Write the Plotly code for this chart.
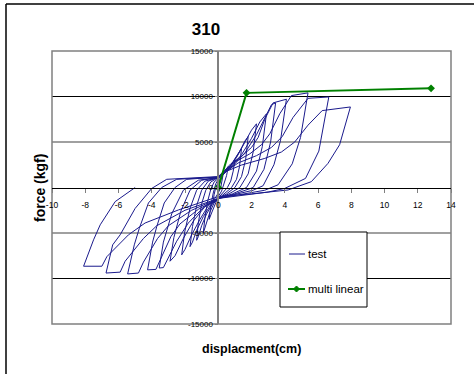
import plotly.graph_objects as go

# ---------------- data ----------------
# Cyclic test: each cycle = positive half then negative half (disp cm, force kgf)
cycle_01_disp = [0, 0.1, 0.2, 0.3, 0.25, 0.15, 0, -0.15, -0.3, -0.25, -0.15, 0]
cycle_01_force = [0, 600, 1100, 1500, 800, 0, -600, -1100, -1500, -800, 0, 600]

cycle_02_disp = [0.2, 0.4, 0.6, 0.5, 0.35, 0.2, 0, -0.2, -0.4, -0.55, -0.45, -0.3, -0.15, 0]
cycle_02_force = [1200, 1800, 2300, 1300, 300, -400, -1000, -1800, -2800, -3500, -2000, -600, 400, 900]

cycle_03_disp = [0.25, 0.5, 0.75, 1.0, 0.9, 0.75, 0.55, 0.3, 0, -0.25, -0.5, -0.7, -0.9, -0.8, -0.65, -0.45, -0.25, 0]
cycle_03_force = [1300, 1800, 2400, 3000, 1800, 700, 0, -500, -1100, -1700, -2700, -3900, -5000, -3300, -1600, -200, 600, 1000]

cycle_04_disp = [0.35, 0.7, 1.0, 1.25, 1.4, 1.28, 1.1, 0.8, 0.4, 0, -0.35, -0.7, -1.0, -1.2, -1.3, -1.2, -1.0, -0.75, -0.45, 0]
cycle_04_force = [1500, 2300, 3200, 4000, 4300, 2300, 900, 0, -600, -1200, -1800, -2900, -4200, -5400, -5800, -3900, -1800, -300, 600, 1100]

cycle_05_disp = [0.45, 0.9, 1.3, 1.6, 1.8, 1.65, 1.4, 1.0, 0.5, 0, -0.45, -0.9, -1.3, -1.55, -1.7, -1.55, -1.3, -1.0, -0.6, 0]
cycle_05_force = [1700, 2800, 4000, 5100, 5600, 3100, 1200, 0, -700, -1200, -1900, -3200, -4700, -6000, -6500, -4300, -2000, -300, 700, 1100]

cycle_06_disp = [0.55, 1.1, 1.6, 2.0, 2.3, 2.1, 1.8, 1.3, 0.65, 0, -0.6, -1.1, -1.6, -2.0, -2.2, -2.02, -1.7, -1.3, -0.8, 0]
cycle_06_force = [1900, 3300, 4900, 6300, 7000, 3900, 1500, 0, -700, -1200, -2000, -3500, -5200, -6800, -7400, -4900, -2300, -300, 700, 1100]

cycle_07_disp = [0.7, 1.4, 2.0, 2.5, 2.9, 2.65, 2.3, 1.7, 0.85, 0, -0.8, -1.5, -2.1, -2.6, -2.9, -2.67, -2.25, -1.7, -1.0, 0]
cycle_07_force = [2100, 3600, 5400, 7200, 8100, 4500, 1800, 0, -700, -1200, -2100, -3700, -5600, -7500, -8100, -5500, -2600, -300, 800, 1100]

cycle_08_disp = [0.8, 1.6, 2.3, 2.9, 3.2, 3.45, 3.15, 2.75, 2.1, 1.0, 0, -0.9, -1.8, -2.5, -3.1, -3.3, -3.55, -3.3, -2.8, -2.1, -1.2, 0]
cycle_08_force = [2200, 3800, 5800, 8000, 9100, 9300, 5000, 2000, 0, -700, -1200, -2200, -3900, -5900, -8100, -8800, -8850, -6000, -2900, -300, 800, 1100]

cycle_09_disp = [0.75, 1.45, 2.0, 2.4, 2.8, 3.3, 4.1, 3.75, 3.35, 2.7, 2.1, 0, -1.2, -2.3, -2.85, -3.5, -3.75, -4.25, -3.95, -3.7, -3.25, -2.6, -1.9, 0]
cycle_09_force = [2600, 3500, 4400, 5500, 7500, 9300, 9700, 5200, 2500, 200, -300, -1200, -2400, -4000, -5400, -7900, -9000, -9050, -6000, -4300, -1700, 0, 900, 1150]

cycle_10_disp = [1.0, 1.9, 2.6, 3.1, 3.7, 4.4, 5.4, 4.95, 4.45, 3.6, 2.8, 0, -1.6, -3.0, -3.65, -4.5, -4.8, -5.45, -5.05, -4.75, -4.2, -3.4, -2.5, 0]
cycle_10_force = [2800, 3700, 4700, 5900, 8100, 10100, 10400, 5500, 2600, 300, -300, -1200, -2500, -4200, -5600, -8200, -9400, -9500, -6300, -4500, -1700, 0, 900, 1150]

cycle_11_disp = [1.2, 2.3, 3.2, 3.85, 4.5, 5.4, 6.65, 6.05, 5.25, 4.0, 3.0, 0, -2.0, -3.7, -4.5, -5.6, -5.9, -6.75, -6.35, -5.9, -5.0, -4.0, -3.1, 0]
cycle_11_force = [2700, 3500, 4400, 5600, 7700, 9800, 9950, 4000, 1000, -100, -500, -1200, -2500, -4200, -5600, -8100, -9300, -9400, -6300, -5200, -2300, -100, 900, 1200]

cycle_12_disp = [0.2, 1.4, 2.8, 3.8, 4.6, 5.4, 6.25, 7.95, 7.3, 6.6, 5.6, 4.2, 2.0, 0, -2.4, -4.4, -5.4, -6.7, -7.0, -8.1, -7.5, -7.1, -6.2, -5.0]
cycle_12_force = [1560, 2470, 3200, 3900, 5000, 6850, 8450, 8850, 4700, 2650, 640, -270, -700, -1000, -2470, -3900, -5200, -7600, -8650, -8650, -5750, -4100, -1550, 0]

# Multi-linear idealisation
multi_disp = [0, 1.7, 12.8]
multi_force = [0, 10400, 10900]

x_ticks = [-10, -8, -6, -4, -2, 0, 2, 4, 6, 8, 10, 12, 14]
x_tick_text = ["-10", "-8", "-6", "-4", "-2", "0", "2", "4", "6", "8", "10", "12", "14"]
y_ticks = [-15000, -10000, -5000, 0, 5000, 10000, 15000]
y_tick_text = ["-15000", "-10000", "-5000", "0", "5000", "10000", "15000"]

series_names = ["test", "multi linear"]
series_colors = ["#1a1a8c", "#008000"]

cycles = [
    (cycle_01_disp, cycle_01_force), (cycle_02_disp, cycle_02_force),
    (cycle_03_disp, cycle_03_force), (cycle_04_disp, cycle_04_force),
    (cycle_05_disp, cycle_05_force), (cycle_06_disp, cycle_06_force),
    (cycle_07_disp, cycle_07_force), (cycle_08_disp, cycle_08_force),
    (cycle_09_disp, cycle_09_force), (cycle_10_disp, cycle_10_force),
    (cycle_11_disp, cycle_11_force), (cycle_12_disp, cycle_12_force),
]
test_disp, test_force = [], []
for d, f in cycles:
    test_disp += d
    test_force += f

# ---------------- figure ----------------
FONT = "Liberation Sans, Arial, sans-serif"
W, H = 474, 374
L, R, T, B = 52, 23, 51, 50
PW, PH = W - L - R, H - T - B

def px(xpix):
    return (xpix - L) / PW

def py(ypix):
    return (H - B - ypix) / PH

fig = go.Figure()
fig.add_trace(go.Scatter(x=test_disp, y=test_force, mode="lines", name=series_names[0],
                         line=dict(color=series_colors[0], width=1)))
fig.add_trace(go.Scatter(x=multi_disp, y=multi_force, mode="lines+markers", name=series_names[1],
                         line=dict(color=series_colors[1], width=2),
                         marker=dict(symbol="diamond", size=6, color=series_colors[1])))

shapes = []
# horizontal gridlines
for v in y_ticks:
    if v in (-15000, 0, 15000):
        continue
    col, wd = ("#000000", 1) if abs(v) == 10000 else ("#808080", 1.5)
    shapes.append(dict(type="line", xref="paper", yref="y", x0=0, x1=1, y0=v, y1=v,
                       line=dict(color=col, width=wd), layer="below"))
# plot frame
shapes.append(dict(type="rect", xref="paper", yref="paper", x0=0, x1=1, y0=0, y1=1,
                   line=dict(color="#808080", width=1.5), layer="below"))
# outer chart border (left and top visible)
shapes.append(dict(type="line", xref="paper", yref="paper", x0=px(6), x1=px(6), y0=py(380), y1=py(4),
                   line=dict(color="#000000", width=1.5)))
shapes.append(dict(type="line", xref="paper", yref="paper", x0=px(6), x1=px(480), y0=py(4), y1=py(4),
                   line=dict(color="#000000", width=1.5)))
# legend box and samples
shapes.append(dict(type="rect", xref="paper", yref="paper", x0=px(280), x1=px(367), y0=py(307), y1=py(232),
                   line=dict(color="#000000", width=1), fillcolor="white", layer="above"))
shapes.append(dict(type="line", xref="paper", yref="paper", x0=px(289), x1=px(305), y0=py(254), y1=py(254),
                   line=dict(color=series_colors[0], width=1)))
shapes.append(dict(type="line", xref="paper", yref="paper", x0=px(288), x1=px(305), y0=py(289), y1=py(289),
                   line=dict(color=series_colors[1], width=2)))
shapes.append(dict(type="path", xref="paper", yref="paper",
                   path="M {a},{b} L {c},{d} L {a},{e} L {f},{d} Z".format(
                       a=px(296.5), b=py(286), c=px(299.5), d=py(289), e=py(292), f=px(293.5)),
                   line=dict(color=series_colors[1], width=1), fillcolor=series_colors[1]))

fig.update_layout(
    width=W, height=H,
    margin=dict(l=L, r=R, t=T, b=B),
    paper_bgcolor="white", plot_bgcolor="white",
    title=dict(text="<b>310</b>", x=206 / W, xref="container", xanchor="center",
               y=1 - 29 / H, yref="container", yanchor="middle",
               font=dict(family=FONT, size=17, color="black")),
    xaxis=dict(range=[-10, 14], tickvals=x_ticks, ticktext=x_tick_text, showgrid=False, zeroline=False,
               anchor="free", position=0.5, showline=True, linecolor="black", linewidth=1,
               ticks="outside", ticklen=4, tickcolor="#808080", ticklabelstandoff=5,
               tickfont=dict(family=FONT, size=8.5, color="black")),
    yaxis=dict(range=[-15000, 15000], tickvals=y_ticks, ticktext=y_tick_text, showgrid=False, zeroline=False,
               anchor="free", position=10 / 24, showline=True, linecolor="#808080", linewidth=1.5,
               ticks="outside", ticklen=3, tickcolor="#808080",
               tickfont=dict(family=FONT, size=8, color="black")),
    shapes=shapes,
    showlegend=False,
    annotations=[
        dict(text="<b>displacment(cm)</b>", xref="paper", yref="paper", x=px(251), y=py(349),
             xanchor="center", yanchor="middle", showarrow=False,
             font=dict(family=FONT, size=12.5, color="black")),
        dict(text="<b>force (kgf)</b>", xref="paper", yref="paper", x=px(40), y=py(188),
             xanchor="center", yanchor="middle", textangle=-90, showarrow=False,
             font=dict(family=FONT, size=14, color="black")),
        dict(text=series_names[0], xref="paper", yref="paper", x=px(306), y=py(254),
             xanchor="left", yanchor="middle", showarrow=False,
             font=dict(family=FONT, size=11.5, color="black")),
        dict(text=series_names[1], xref="paper", yref="paper", x=px(306), y=py(289),
             xanchor="left", yanchor="middle", showarrow=False,
             font=dict(family=FONT, size=11.5, color="black")),
    ],
)

fig.write_html("out.html", config={"displayModeBar": False},
               post_script="document.body.style.margin='0';")
